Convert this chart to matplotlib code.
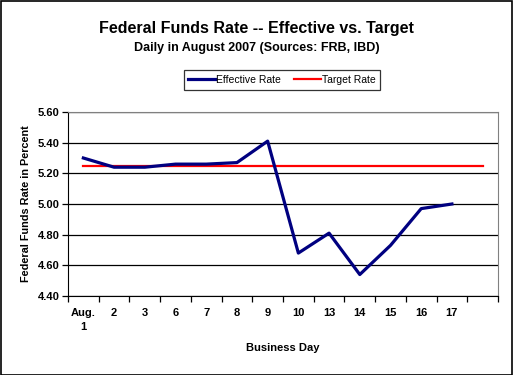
import matplotlib
matplotlib.use('Agg')
import matplotlib.pyplot as plt
from matplotlib.patches import Rectangle

plt.rcParams['font.family'] = ['Liberation Sans', 'DejaVu Sans']

# business days in August 2007 (last slot left empty)
days = ['Aug.\n1', '2', '3', '6', '7', '8', '9', '10', '13', '14', '15', '16', '17', '']
effective = [5.30, 5.24, 5.24, 5.26, 5.26, 5.27, 5.41, 4.68, 4.81, 4.54, 4.73, 4.97, 5.00]
target = [5.25] * 14
yticks = [4.40, 4.60, 4.80, 5.00, 5.20, 5.40, 5.60]

fig = plt.figure(figsize=(5.13, 3.75), dpi=100)
fig.patches.append(Rectangle((0.001, 0.001), 0.997, 0.996, transform=fig.transFigure,
                             fill=False, edgecolor='black', lw=1.2))

ax = fig.add_axes([68 / 513, 1 - 296 / 375, 430 / 513, 184 / 375])

x_eff = list(range(len(effective)))
x_tgt = list(range(len(target)))
ax.plot(x_eff, effective, color='#000080', lw=2.3, label='Effective Rate', zorder=3)
ax.plot(x_tgt, target, color='#FF0000', lw=1.6, label='Target Rate', zorder=2)

ax.set_xlim(-0.5, len(days) - 0.5)
ax.set_ylim(4.40, 5.60)
ax.set_yticks(yticks)
ax.set_yticklabels(['%.2f' % v for v in yticks], fontsize=8, fontweight='bold')
ax.yaxis.grid(True, color='black', lw=0.9)
ax.set_axisbelow(True)

ax.set_xticks(range(len(days)))
ax.set_xticklabels(days, fontsize=8, fontweight='bold', linespacing=1.45, va='top')
ax.tick_params(axis='x', which='major', length=0, pad=9)
ax.set_xticks([i - 0.5 for i in range(len(days) + 1)], minor=True)
ax.tick_params(axis='x', which='minor', length=4, direction='out', width=0.9)
ax.tick_params(axis='y', length=4, direction='out', width=0.9, pad=2)

for s in ['top', 'right']:
    ax.spines[s].set_color('#808080')
for s in ['left', 'bottom']:
    ax.spines[s].set_color('black')

ax.set_ylabel('Federal Funds Rate in Percent', fontsize=7.8, fontweight='bold', labelpad=5)
ax.set_xlabel('Business Day', fontsize=8, fontweight='bold', labelpad=8)

fig.text(0.5, 1 - 28 / 375, 'Federal Funds Rate -- Effective vs. Target',
         ha='center', va='center', fontsize=11.5, fontweight='bold')
fig.text(0.5, 1 - 48 / 375, 'Daily in August 2007 (Sources: FRB, IBD)',
         ha='center', va='center', fontsize=9, fontweight='bold')

leg = fig.legend(loc='center', bbox_to_anchor=(282 / 513, 1 - 80 / 375), ncol=2,
                 fontsize=7.5, frameon=True, fancybox=False, edgecolor='black',
                 handlelength=2.6, handletextpad=0.1, columnspacing=1.2,
                 borderpad=0.45, borderaxespad=0)
leg.get_frame().set_linewidth(0.9)

fig.savefig('out.png', dpi=100)
